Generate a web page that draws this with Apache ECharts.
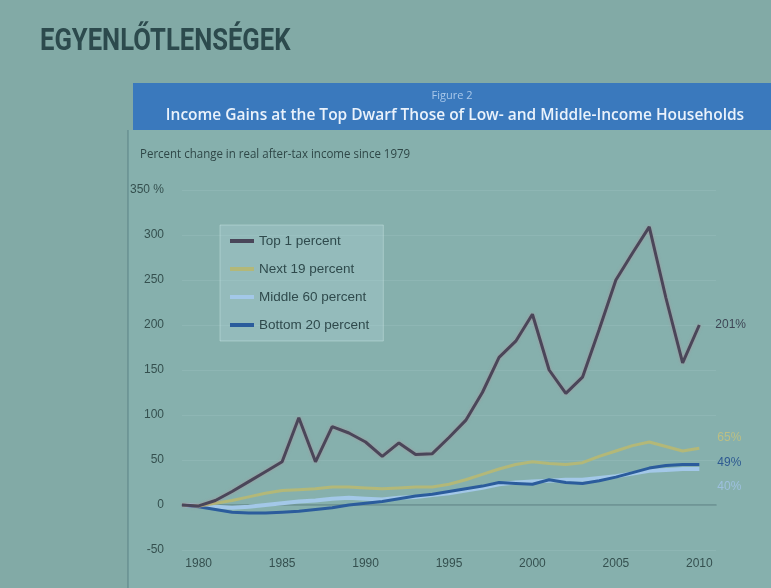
<!DOCTYPE html>
<html>
<head>
<meta charset="utf-8">
<script src="https://cdn.jsdelivr.net/npm/echarts@6/dist/echarts.min.js"></script>
<style>
  html, body { margin: 0; padding: 0; background: #82aaa6; }
  #main { width: 771px; height: 588px; filter: blur(0.6px); }
</style>
</head>
<body>
<div id="main"></div>
<script>
// years 1979..2010, percent change in real after-tax income since 1979
const years = [];
for (let y = 1979; y <= 2010; y++) years.push(y);
const top1 = [0, -1, 5, 15, 26, 37, 48, 97, 48, 87, 80, 70, 54, 69, 56, 57, 75, 94, 125, 164, 182, 212, 150, 124, 142, 195, 250, 280, 309, 230, 158, 200];
const next19 = [0, -1, 2, 5, 9, 13, 16, 17, 18, 20, 20, 19, 18, 19, 20, 20, 23, 28, 34, 40, 45, 48, 46, 45, 47, 54, 60, 66, 70, 65, 60, 63];
const middle60 = [0, -1, -2, -3, -2, 0, 2, 4, 5, 7, 8, 7, 6, 8, 9, 11, 13, 16, 19, 23, 25, 26, 27, 28, 28, 30, 32, 35, 38, 39, 40, 40];
const bottom20 = [0, -2, -5, -8, -9, -9, -8, -7, -5, -3, 0, 2, 4, 7, 10, 12, 15, 18, 21, 25, 24, 23, 28, 25, 24, 27, 31, 36, 41, 44, 45, 45];
const xTicks = [1980, 1985, 1990, 1995, 2000, 2005, 2010];
const endLabels = { top1: "201%", next19: "65%", middle60: "40%", bottom20: "49%" };

const pairs = (arr) => years.map((y, i) => [y, arr[i]]);

const chart = echarts.init(document.getElementById("main"));

const textColor = "#35504f";

chart.setOption({
    animation: false,
    graphic: [
        { type: "rect", shape: { x: 128, y: 130, width: 643, height: 458 },
          style: { fill: "rgba(150,200,200,0.22)" }, z: -10 },
        { type: "line", shape: { x1: 128, y1: 130, x2: 128, y2: 588 },
          style: { stroke: "rgba(70,110,115,0.45)", lineWidth: 1.5 }, z: -9 },
        { type: "rect", shape: { x: 133, y: 83, width: 638, height: 47 },
          style: { fill: "#3a79bd" }, z: -8 },
        { type: "text", x: 40, y: 26, scaleX: 0.8,
          style: { text: "EGYENLŐTLENSÉGEK", fill: "#2c4a4d",
                   font: "bold 32px Roboto, sans-serif" } },
        { type: "text", x: 452, y: 96,
          style: { text: "Figure 2", fill: "#a9c8ea", align: "center", verticalAlign: "middle",
                   font: "11px 'Open Sans', sans-serif" } },
        { type: "text", x: 455, y: 116,
          style: { text: "Income Gains at the Top Dwarf Those of Low- and Middle-Income Households",
                   fill: "#eaf2fb", align: "center", verticalAlign: "middle",
                   font: "600 15.5px 'Open Sans', sans-serif" } },
        { type: "text", x: 140, y: 148, scaleX: 0.92,
          style: { text: "Percent change in real after-tax income since 1979", fill: "#2f4747",
                   font: "12.5px 'Open Sans', sans-serif" } },
    ],
    grid: { left: 182, right: 55, top: 190, bottom: 38 },
    legend: {
        orient: "vertical",
        left: 220,
        top: 225,
        padding: [9, 14, 9, 10],
        itemGap: 14,
        itemWidth: 24,
        itemHeight: 4,
        icon: "rect",
        backgroundColor: "rgba(175,210,215,0.35)",
        borderColor: "rgba(220,240,240,0.35)",
        borderWidth: 1,
        textStyle: { color: "#2f4a4c", fontSize: 13.5 },
        data: ["Top 1 percent", "Next 19 percent", "Middle 60 percent", "Bottom 20 percent"],
    },
    xAxis: {
        type: "value",
        min: 1979,
        max: 2011,
        axisLine: { onZero: true, lineStyle: { color: "rgba(80,115,120,0.55)", width: 1.5 } },
        axisTick: { show: false },
        splitLine: { show: false },
        axisLabel: {
            customValues: xTicks,
            color: textColor,
            fontSize: 12,
            formatter: (v) => String(v),
        },
        position: "bottom",
    },
    yAxis: {
        type: "value",
        min: -50,
        max: 350,
        interval: 50,
        axisLine: { show: false },
        axisTick: { show: false },
        splitLine: { lineStyle: { color: "rgba(200,230,230,0.12)" } },
        axisLabel: {
            color: textColor,
            fontSize: 12,
            margin: 18,
            formatter: (v) => (v === 350 ? "350 %" : String(v)),
        },
    },
    series: [
        {
            name: "Middle 60 percent",
            type: "line",
            data: pairs(middle60),
            symbol: "none",
            color: "#a3c8e8",
            lineStyle: { width: 4 },
            endLabel: { show: true, formatter: endLabels.middle60, color: "#9dc0de",
                        fontSize: 12, offset: [10, 18] },
        },
        {
            name: "Bottom 20 percent",
            type: "line",
            data: pairs(bottom20),
            symbol: "none",
            color: "#2b5c9c",
            lineStyle: { width: 3 },
            endLabel: { show: true, formatter: endLabels.bottom20, color: "#2e5a92",
                        fontSize: 12, offset: [10, -2] },
        },
        {
            name: "Next 19 percent",
            type: "line",
            data: pairs(next19),
            symbol: "none",
            color: "#b3b878",
            lineStyle: { width: 3 },
            endLabel: { show: true, formatter: endLabels.next19, color: "#bcbf84",
                        fontSize: 12, offset: [10, -11] },
        },
        {
            name: "Top 1 percent",
            type: "line",
            data: pairs(top1),
            symbol: "none",
            color: "#4a4659",
            lineStyle: { width: 3, shadowColor: "rgba(190,120,140,0.5)", shadowBlur: 3 },
            endLabel: { show: true, formatter: endLabels.top1, color: "#3e4655",
                        fontSize: 12, offset: [8, 0] },
        },
    ],
});
</script>
</body>
</html>
